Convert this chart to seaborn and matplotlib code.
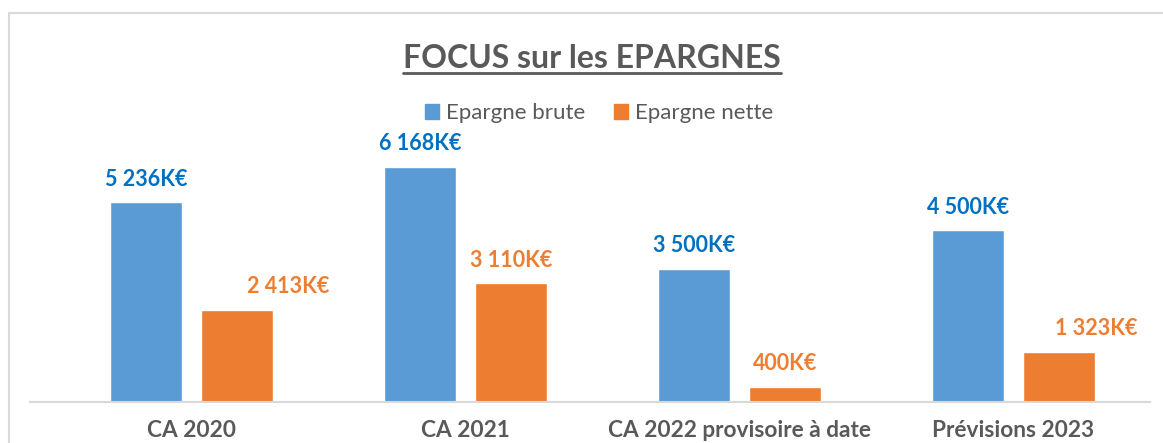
import numpy as np
import pandas as pd
import matplotlib
matplotlib.use("Agg")
import matplotlib.pyplot as plt
from matplotlib.patches import Rectangle
from matplotlib.lines import Line2D
import seaborn as sns

# donnees
categories = ["CA 2020", "CA 2021", "CA 2022 provisoire à date", "Prévisions 2023"]
epargne_brute = [5236, 6168, 3500, 4500]
epargne_nette = [2413, 3110, 400, 1323]
series = ["Epargne brute", "Epargne nette"]

df = pd.DataFrame({
    "cat": categories * 2,
    "serie": [series[0]] * 4 + [series[1]] * 4,
    "val": epargne_brute + epargne_nette,
})

bar_colors = ["#5B9BD5", "#ED7D31"]
label_colors = ["#0070C0", "#ED7D31"]
# decalage manuel de certaines etiquettes (points)
label_dx = [[0, 0, 0, 0], [37, 0, 0, 27]]

sns.set_theme(style="white")
plt.rcParams["font.family"] = ["Lato", "DejaVu Sans"]

fig = plt.figure(figsize=(11.63, 4.43), dpi=100)
ax = fig.add_axes([30 / 1163, 41 / 443, 1120 / 1163, 267 / 443])

sns.barplot(data=df, x="cat", y="val", hue="serie", palette=bar_colors,
            width=0.664, gap=0.208, ax=ax, legend=False, saturation=1)

ax.set_xlim(-0.589, 3.498)
ax.set_ylim(0, 7000)
ax.set_xlabel("")
ax.set_ylabel("")
ax.set_yticks([])
for s in ["top", "right", "left"]:
    ax.spines[s].set_visible(False)
ax.spines["bottom"].set_color("#d9d9d9")
ax.spines["bottom"].set_linewidth(1.5)
ax.tick_params(axis="x", length=0, pad=13)
for t in ax.get_xticklabels():
    t.set_fontsize(16.3)
    t.set_fontweight("bold")
    t.set_color("#595959")

for i, cont in enumerate(ax.containers):
    for j, p in enumerate(cont.patches):
        v = p.get_height()
        txt = f"{int(v):,}".replace(",", " ") + "K€"
        ax.annotate(txt, (p.get_x() + p.get_width() / 2, v),
                    xytext=(label_dx[i][j], 9), textcoords="offset points",
                    ha="center", va="bottom", fontsize=15.5, fontweight="bold",
                    color=label_colors[i])

# legende
handles = [Rectangle((0, 0), 1, 1, color=c) for c in bar_colors]
fig.legend(handles, series, loc="center", bbox_to_anchor=(599 / 1163, 1 - 113 / 443),
           ncol=2, frameon=False, fontsize=16, handlelength=0.64, handleheight=0.64,
           handletextpad=0.3, columnspacing=1.3, labelcolor="#595959")

# titre souligne
title = fig.text(592 / 1163, 1 - 58 / 443, "FOCUS sur les EPARGNES", ha="center", va="center",
                 fontsize=23, fontweight="bold", color="#595959")
fig.canvas.draw()
bb = title.get_window_extent().transformed(fig.transFigure.inverted())
fig.add_artist(Line2D([bb.x0, bb.x1], [1 - 73 / 443] * 2, color="#595959",
                      linewidth=2, transform=fig.transFigure))

# cadre du graphique
fig.add_artist(Rectangle((9 / 1163, -0.05), 1.1, 1 - 13 / 443 + 0.05, fill=False,
                         edgecolor="#d9d9d9", linewidth=1.5, transform=fig.transFigure))

fig.savefig("out.png", dpi=100)
